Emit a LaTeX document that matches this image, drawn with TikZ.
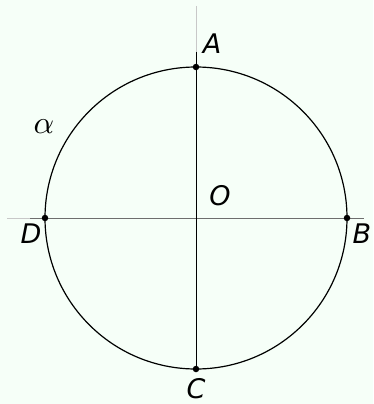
\documentclass[tikz,border=0pt]{standalone}
\usepackage{fontspec}
\newfontfamily\lab{DejaVu Sans}
\definecolor{bgmint}{RGB}{246,255,248}
\definecolor{lightline}{RGB}{200,200,200}
\definecolor{axisgray}{RGB}{110,110,110}
\definecolor{stroke}{RGB}{45,45,45}
\tikzset{
  dot/.style={circle,fill=black,inner sep=0pt,minimum size=6.5pt},
  lbl/.style={inner sep=0pt,font=\lab\itshape\fontsize{27}{27}\selectfont},
}
\begin{document}
\begin{tikzpicture}[x=1pt,y=-1pt]
\fill[bgmint] (0,0) rectangle (373,404);
\useasboundingbox (0,0) rectangle (373,404);
% key coordinates
\coordinate (O) at (196,218);
\coordinate (vtop) at (196,6);
\coordinate (vmid) at (196,52);
\coordinate (hleft) at (7,218);
\coordinate (hmid) at (30,218);
\coordinate (hright) at (364,218);
% axes
\draw[lightline,line width=1pt] (vtop) -- (vmid);
\draw[lightline,line width=1pt] (hleft) -- (hmid);
\draw[axisgray,line width=1pt] (hmid) -- (hright);
% circle
\draw[stroke,line width=1.2pt] (O) circle[radius=151];
% points
\node[dot] (A) at (196,67) {};
\node[dot] (B) at (347,218) {};
\node[dot] (C) at (196,369) {};
\node[dot] (D) at (45,218) {};
\draw[stroke,line width=0.9pt] (vmid) -- (C.center);
% labels
\node[lbl] (lA) at (212,44) {A};
\node[lbl] (lO) at (220,196) {O};
\node[lbl] (lB) at (362,233.5) {B};
\node[lbl] (lC) at (196,389) {C};
\node[lbl] (lD) at (31,233.5) {D};
\node[inner sep=0pt] (alpha) at (44,127) {\scalebox{3.2}{$\alpha$}};
\end{tikzpicture}
\end{document}
